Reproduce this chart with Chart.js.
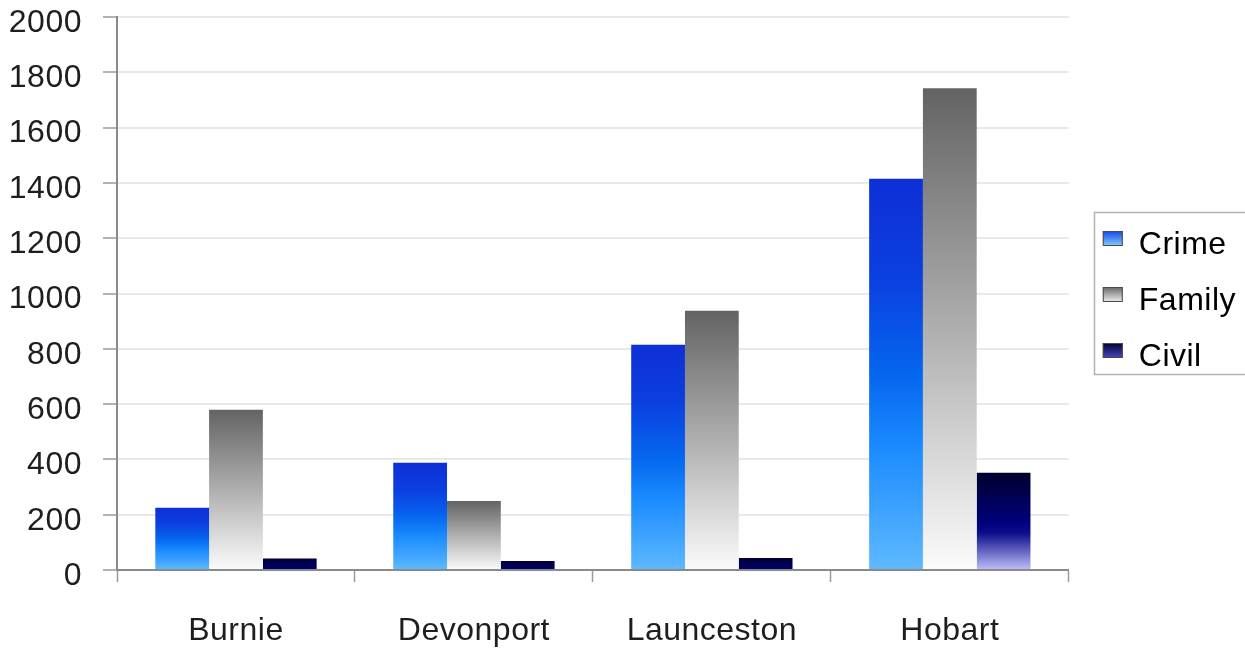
<!DOCTYPE html>
<html>
<head>
<meta charset="utf-8">
<title>Court lodgements by registry</title>
<script src="https://cdn.jsdelivr.net/npm/chart.js@4/dist/chart.umd.min.js"></script>
<style>
  html, body { margin: 0; padding: 0; background: #ffffff; overflow: hidden; }
  canvas { display: block; }
</style>
</head>
<body>
<canvas id="chart" width="1245" height="649"></canvas>
<script>
// Registries along the x axis
const categories = ['Burnie', 'Devonport', 'Launceston', 'Hobart'];

// Lodgements per registry, one array per jurisdiction
const crime = [225, 388, 815, 1415];
const family = [580, 250, 938, 1742];
const civil = [42, 33, 43, 352];

const seriesNames = ['Crime', 'Family', 'Civil'];

// Value axis tick labels
const yTicks = [0, 200, 400, 600, 800, 1000, 1200, 1400, 1600, 1800, 2000];

// Vertical gradient stops for each series (top of bar -> base)
const crimeStops = [[0, '#0e2fd6'], [0.25, '#0b3fe0'], [0.5, '#0566ee'], [0.68, '#1a8aff'], [1, '#5eb9ff']];
const familyStops = [[0, '#636363'], [1, '#fbfbfb']];
const civilStops = [[0, '#00002c'], [0.5, '#00007a'], [0.62, '#0d0d8c'], [1, '#bfbff8']];
const civilShortStops = [[0, '#000038'], [1, '#00006e']];

// Legend swatch gradients
const swatchStops = [
  [[0, '#1248e6'], [1, '#86ccff']],
  [[0, '#666666'], [1, '#f0f0f0']],
  [[0, '#000030'], [1, '#4848c8']]
];

const FONT = "'Liberation Sans', Arial, Helvetica, sans-serif";
const SPACING = '0.5px';

function barGradient(stops, shortStops) {
  return (c) => {
    const chart = c.chart;
    if (c.type !== 'data' || !chart.chartArea || !chart.scales.y) return stops[0][1];
    const y = chart.scales.y;
    const top = y.getPixelForValue(c.raw);
    const base = y.getPixelForValue(0);
    const use = (shortStops && base - top < 40) ? shortStops : stops;
    const g = chart.ctx.createLinearGradient(0, top, 0, base);
    use.forEach(([o, col]) => g.addColorStop(o, col));
    return g;
  };
}

function noScalePadding(scale) {
  scale.paddingTop = 0;
  scale.paddingBottom = 0;
  scale.paddingLeft = 0;
  scale.paddingRight = 0;
}

// Letter spacing, legend nudge, legend frame and gradient swatches
const framePlugin = {
  id: 'frame',
  beforeUpdate(chart) { chart.ctx.letterSpacing = SPACING; },
  beforeLayout(chart) { chart.ctx.letterSpacing = SPACING; },
  beforeDraw(chart) { chart.ctx.letterSpacing = SPACING; },
  afterLayout(chart) {
    const lg = chart.legend;
    lg.left += 10; lg.right += 10;
    lg.top += 8; lg.bottom += 8;
  },
  afterDraw(chart) {
    const lg = chart.legend;
    const hb = lg.legendHitBoxes;
    if (!hb || !hb.length) return;
    const ctx = chart.ctx;
    ctx.save();
    const last = hb[hb.length - 1];
    const top = Math.round(hb[0].top - 18) + 0.5;
    const bottom = Math.round(last.top + last.height) + 0.5;
    ctx.strokeStyle = '#b2b2b2';
    ctx.lineWidth = 1.5;
    ctx.strokeRect(Math.round(lg.left + 15) + 0.5, top, 400, bottom - top);
    hb.forEach((b, i) => {
      const x = b.left, y = b.top + 1.5, w = 20, h = 15;
      const g = ctx.createLinearGradient(0, y, 0, y + h);
      swatchStops[i].forEach(([o, col]) => g.addColorStop(o, col));
      ctx.fillStyle = g;
      ctx.fillRect(x, y, w, h);
      ctx.strokeStyle = '#4a4a4a';
      ctx.lineWidth = 1;
      ctx.strokeRect(x + 0.5, y + 0.5, w - 1, h - 1);
    });
    ctx.restore();
  }
};

Chart.defaults.font.family = FONT;
Chart.defaults.color = '#1e1e1e';

new Chart(document.getElementById('chart'), {
  type: 'bar',
  data: {
    labels: categories,
    datasets: [
      { label: seriesNames[0], data: crime, backgroundColor: barGradient(crimeStops) },
      { label: seriesNames[1], data: family, backgroundColor: barGradient(familyStops) },
      { label: seriesNames[2], data: civil, backgroundColor: barGradient(civilStops, civilShortStops) }
    ]
  },
  options: {
    responsive: false,
    animation: false,
    devicePixelRatio: 1,
    datasets: {
      bar: { categoryPercentage: 0.678, barPercentage: 1.0, borderWidth: 0 }
    },
    layout: { padding: { left: 9, top: 17, right: 9, bottom: 0 } },
    plugins: {
      tooltip: { enabled: false },
      legend: {
        position: 'right',
        fullSize: false,
        labels: {
          font: { size: 32, family: FONT },
          color: '#1e1e1e',
          boxWidth: 20,
          boxHeight: 15,
          padding: 24,
          generateLabels(chart) {
            return chart.data.datasets.map((ds, i) => ({
              text: ds.label,
              fillStyle: 'rgba(0,0,0,0)',
              strokeStyle: 'rgba(0,0,0,0)',
              lineWidth: 0,
              hidden: false,
              datasetIndex: i
            }));
          }
        }
      }
    },
    scales: {
      x: {
        grid: {
          offset: true,
          drawOnChartArea: false,
          tickColor: '#9a9a9a',
          tickLength: 12,
          tickWidth: 1.5
        },
        border: { color: '#8a8a8a', width: 2 },
        ticks: { font: { size: 32, family: FONT }, color: '#1e1e1e', padding: 30 },
        afterFit(scale) { noScalePadding(scale); scale.height = 79; }
      },
      y: {
        min: 0,
        max: 2000,
        afterBuildTicks(scale) { scale.ticks = yTicks.map(v => ({ value: v })); },
        afterFit(scale) { noScalePadding(scale); scale.width = 108; },
        grid: {
          color: '#e9e9e9',
          lineWidth: 2,
          tickColor: '#9a9a9a',
          tickLength: 14,
          tickWidth: 1.5
        },
        border: { color: '#8a8a8a', width: 2 },
        ticks: {
          font: { size: 32, family: FONT, lineHeight: 1.1 },
          color: '#1e1e1e',
          padding: 21,
          labelOffset: 6,
          callback: (v) => String(v)
        }
      }
    }
  },
  plugins: [framePlugin]
});
</script>
</body>
</html>
